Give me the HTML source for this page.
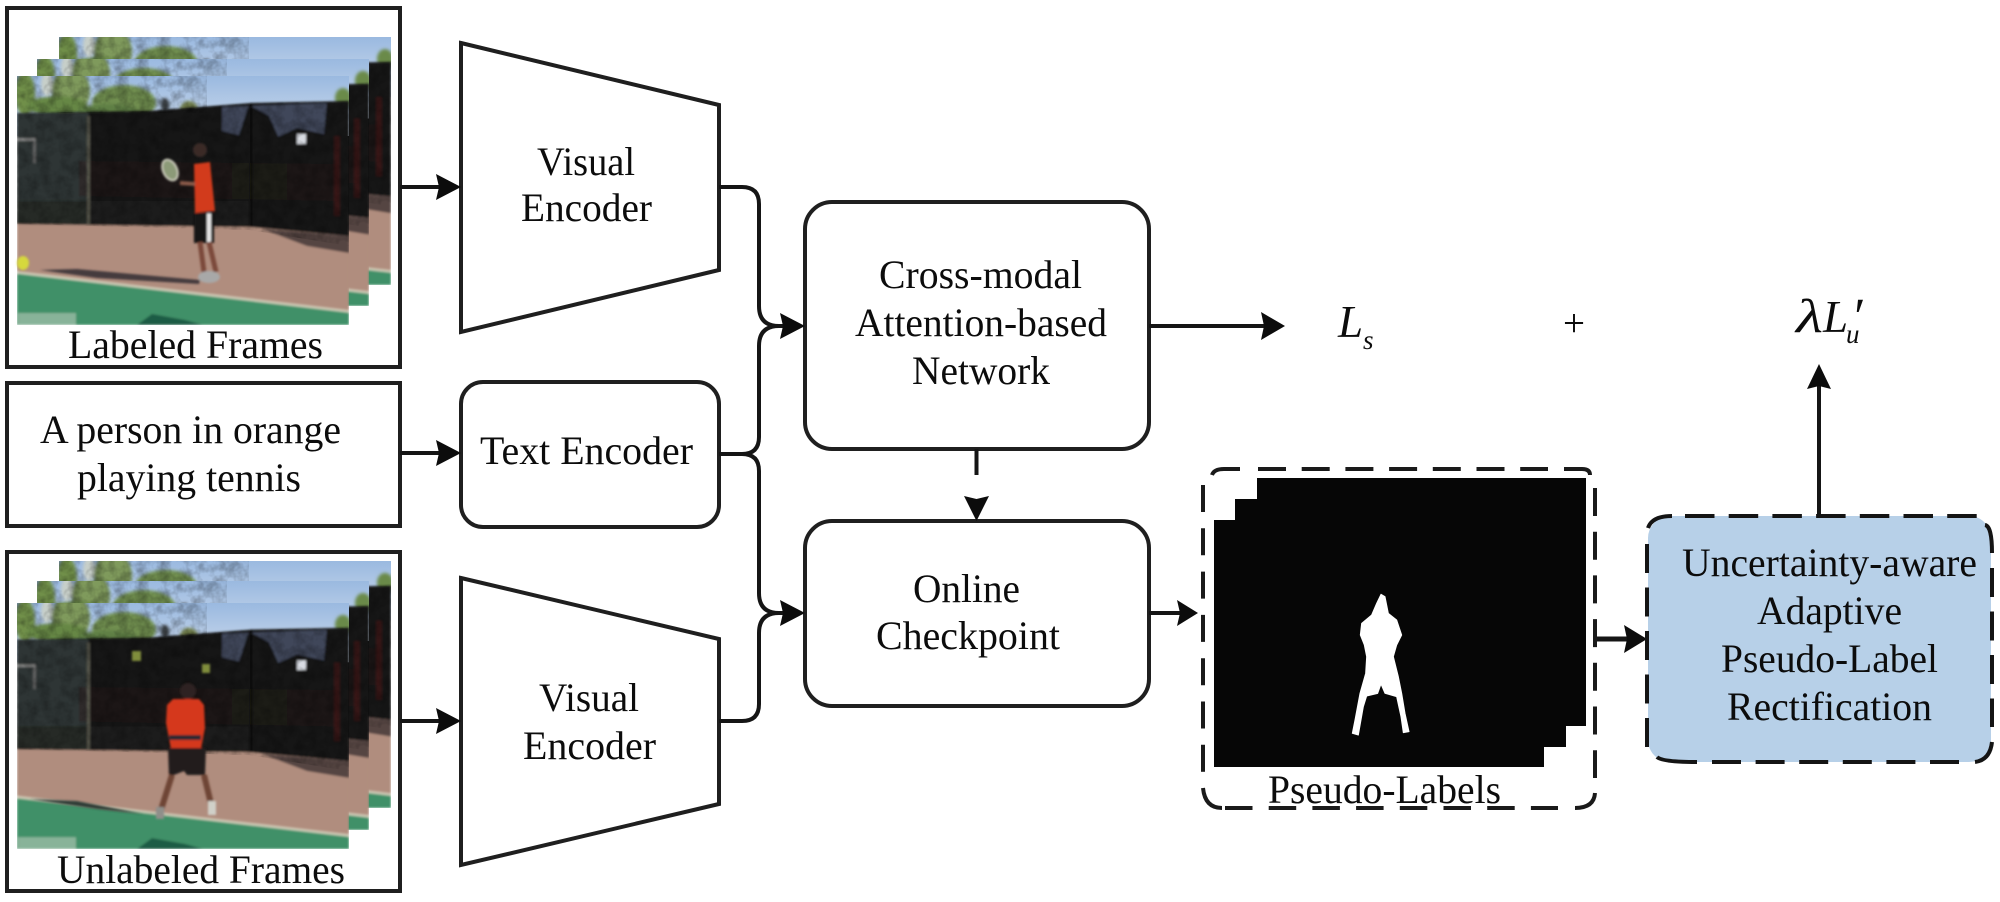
<!DOCTYPE html>
<html>
<head>
<meta charset="utf-8">
<style>
html,body{margin:0;padding:0;background:#fff;width:2000px;height:902px;overflow:hidden}
svg{display:block}
text{font-family:"Liberation Serif","Times New Roman",serif;fill:#0c0c0c}
</style>
</head>
<body>
<svg width="2000" height="902" viewBox="0 0 2000 902" xmlns="http://www.w3.org/2000/svg">
<defs>
<linearGradient id="sky" x1="0" y1="0" x2="0" y2="1"><stop offset="0" stop-color="#9ab9e0"/><stop offset="1" stop-color="#d3dfee"/></linearGradient>
<filter id="b1" x="-5%" y="-5%" width="110%" height="110%"><feGaussianBlur stdDeviation="1"/></filter>
<filter id="b2" x="-20%" y="-20%" width="140%" height="140%"><feGaussianBlur stdDeviation="1.6"/></filter>
<filter id="mott" x="0" y="0" width="100%" height="100%">
  <feTurbulence type="fractalNoise" baseFrequency=".09" numOctaves="3" seed="4"/>
  <feColorMatrix type="matrix" values="0 0 0 0 0  0 0 0 0 0  0 0 0 0 0  1.6 0 0 0 -.55"/>
  <feComposite in2="SourceGraphic" operator="in"/>
</filter>
<symbol id="bg" viewBox="0 0 332 249" preserveAspectRatio="none" overflow="hidden">
  <rect width="332" height="60" fill="url(#sky)"/>
  <g filter="url(#b2)">
    <ellipse cx="8" cy="18" rx="10" ry="22" fill="#6f8f49"/>
    <ellipse cx="30" cy="8" rx="6" ry="12" fill="#c7cfc9"/>
    <ellipse cx="54" cy="15" rx="19" ry="24" fill="#7f9a5c"/>
    <ellipse cx="40" cy="30" rx="30" ry="10" fill="#668745"/>
    <ellipse cx="107" cy="27" rx="32" ry="18" fill="#6f8e50"/>
    <ellipse cx="90" cy="36" rx="30" ry="8" fill="#5f7f45"/>
    <ellipse cx="172" cy="34" rx="9" ry="9" fill="#7b8a52"/>
    <ellipse cx="148" cy="29" rx="4" ry="7" fill="#3a3f44"/>
    <ellipse cx="326" cy="22" rx="8" ry="10" fill="#6b8a48"/>
  </g>
  <g filter="url(#b1)">
  <polygon points="0,37 130,35 235,27 332,25 332,170 232,154 0,148" fill="#141716"/>
  <rect x="0" y="37" width="72" height="112" fill="#2f3534"/>
  <polygon points="205,31 315,27 315,60 280,52 250,66 205,55" fill="#41465a"/>
  <polygon points="232,29 252,40 270,80 270,150 215,150 215,80" fill="#141815"/>
  <polygon points="310,26 332,25 332,160 300,155 305,80" fill="#141413"/>
  <rect x="0" y="125" width="232" height="24" fill="#202422" opacity=".6"/>
  <polygon points="62,85 320,88 320,125 62,120" fill="#2e1d1b" opacity=".4"/>
  <rect x="317" y="60" width="6" height="80" fill="#4e1a1c" opacity=".55"/>
  <rect x="0" y="62" width="18" height="3" fill="#a0a09e" opacity=".7"/>
  <rect x="16" y="62" width="3" height="25" fill="#8d8d8b" opacity=".5"/>
  <rect x="70" y="40" width="3" height="110" fill="#57564c"/>
  <rect x="233" y="27" width="2.5" height="125" fill="#070707"/>
  <polygon points="0,148 232,151 332,160 332,249 0,249" fill="#b08d7e"/>
  <polygon points="245,153 332,160 332,177 290,170" fill="#544442"/>
  <polygon points="0,197 332,236 332,249 0,249" fill="#3f9068"/>
  <polygon points="0,195 332,234 332,237 0,198" fill="#dcdcc8" opacity=".7"/>
  <polygon points="120,249 135,238 168,244 186,249" fill="#1f5c45"/>
  <rect x="1" y="237" width="58" height="12" fill="#b9cbbb" opacity=".6"/>
  <rect x="280" y="58" width="9" height="10" fill="#d8dbe2"/>
  </g>
  <polygon points="0,37 130,35 235,27 332,25 332,170 232,154 0,148" fill="#7a8078" opacity=".3" filter="url(#mott)"/>
  <rect x="0" y="0" width="190" height="37" fill="#b9c8a4" opacity=".4" filter="url(#mott)"/>
</symbol>
</defs>

<!-- Labeled frames -->
<rect x="7" y="8" width="393" height="359" fill="#fff" stroke="#1f1f1f" stroke-width="4"/>
<use href="#bg" x="59" y="37" width="332" height="248"/>
<use href="#bg" x="37" y="59" width="332" height="247"/>
<use href="#bg" x="17" y="76" width="332" height="249"/>
<g transform="translate(17,76)" filter="url(#b1)">
  <polygon points="23,194 60,193 183,204 182,208 80,202" fill="#453a3d"/>
  <ellipse cx="6" cy="187" rx="6" ry="7" fill="#d6d83c"/>
  <ellipse cx="153" cy="94" rx="7" ry="11" fill="#8c9a78" stroke="#c8c8b8" stroke-width="2" transform="rotate(-25 153 94)"/>
  <circle cx="183" cy="74" r="7" fill="#3a2a28"/>
  <polygon points="177,88 193,86 198,135 178,137" fill="#d23a1a"/>
  <line x1="178" y1="108" x2="163" y2="107" stroke="#8a5a48" stroke-width="4"/>
  <rect x="177" y="137" width="20" height="30" fill="#141414"/>
  <rect x="190" y="137" width="4" height="29" fill="#e8e8e8"/>
  <line x1="183" y1="166" x2="187" y2="196" stroke="#7c4a3a" stroke-width="5"/>
  <line x1="192" y1="166" x2="199" y2="196" stroke="#7c4a3a" stroke-width="5"/>
  <ellipse cx="192" cy="201" rx="11" ry="6" fill="#a8a8a8"/>
</g>
<text x="68" y="358" font-size="40" textLength="255" lengthAdjust="spacingAndGlyphs">Labeled Frames</text>

<!-- Text box -->
<rect x="7" y="383" width="393" height="143" fill="#fff" stroke="#1f1f1f" stroke-width="4"/>
<text x="40" y="443" font-size="40" textLength="301" lengthAdjust="spacingAndGlyphs">A person in orange</text>
<text x="77" y="491" font-size="40" textLength="224" lengthAdjust="spacingAndGlyphs">playing tennis</text>

<!-- Unlabeled frames -->
<rect x="7" y="552" width="393" height="339" fill="#fff" stroke="#1f1f1f" stroke-width="4"/>
<use href="#bg" x="59" y="561" width="332" height="247"/>
<use href="#bg" x="37" y="581" width="332" height="249"/>
<use href="#bg" x="17" y="603" width="332" height="246"/>
<g transform="translate(17,603)" filter="url(#b1)">
  <polygon points="13,196 60,198 126,211 80,206" fill="#2e3a36"/>
  <rect x="115" y="48" width="9" height="10" fill="#8c9a40" opacity=".9"/>
  <rect x="185" y="61" width="8" height="9" fill="#8c9a40" opacity=".9"/>
  <circle cx="171" cy="88" r="8" fill="#2e2320"/>
  <polygon points="156,96 182,96 187,102 188,125 184,146 154,146 149,120 150,102" fill="#d5381a"/>
  <polygon points="151,145 189,145 188,172 170,172 167,168 152,174" fill="#201f1e"/>
  <line x1="155" y1="172" x2="143" y2="210" stroke="#6e4435" stroke-width="6"/>
  <line x1="187" y1="172" x2="195" y2="205" stroke="#6e4435" stroke-width="6"/>
  <rect x="139" y="204" width="8" height="12" fill="#8f8f8a"/>
  <rect x="191" y="198" width="8" height="14" fill="#d0d0c8"/>
  <rect x="152" y="132" width="32" height="5" fill="#252a30"/>
</g>
<text x="57" y="883" font-size="40" textLength="288" lengthAdjust="spacingAndGlyphs">Unlabeled Frames</text>

<!-- Encoders -->
<polygon points="461,43 719,105 719,270 461,332" fill="#fff" stroke="#1f1f1f" stroke-width="4"/>
<polygon points="461,578 719,639 719,804 461,865" fill="#fff" stroke="#1f1f1f" stroke-width="4"/>
<rect x="461" y="382" width="258" height="145" rx="22" ry="22" fill="#fff" stroke="#1f1f1f" stroke-width="4"/>
<text x="537" y="175" font-size="40" textLength="98" lengthAdjust="spacingAndGlyphs">Visual</text>
<text x="521" y="221" font-size="40" textLength="131" lengthAdjust="spacingAndGlyphs">Encoder</text>
<text x="480" y="464" font-size="40" textLength="213" lengthAdjust="spacingAndGlyphs">Text Encoder</text>
<text x="539" y="711" font-size="40" textLength="100" lengthAdjust="spacingAndGlyphs">Visual</text>
<text x="523" y="759" font-size="40" textLength="133" lengthAdjust="spacingAndGlyphs">Encoder</text>

<!-- Center boxes -->
<rect x="805" y="202" width="344" height="247" rx="27" ry="27" fill="#fff" stroke="#1f1f1f" stroke-width="4"/>
<rect x="805" y="521" width="344" height="185" rx="27" ry="27" fill="#fff" stroke="#1f1f1f" stroke-width="4"/>
<text x="879" y="288" font-size="40" textLength="203" lengthAdjust="spacingAndGlyphs">Cross-modal</text>
<text x="855" y="336" font-size="40" textLength="252" lengthAdjust="spacingAndGlyphs">Attention-based</text>
<text x="912" y="384" font-size="40" textLength="138" lengthAdjust="spacingAndGlyphs">Network</text>
<text x="913" y="602" font-size="40" textLength="107" lengthAdjust="spacingAndGlyphs">Online</text>
<text x="876" y="649" font-size="40" textLength="184" lengthAdjust="spacingAndGlyphs">Checkpoint</text>

<!-- Connectors -->
<g fill="none" stroke="#151515" stroke-width="4">
  <line x1="400" y1="187" x2="445" y2="187"/>
  <line x1="400" y1="453" x2="445" y2="453"/>
  <line x1="400" y1="721" x2="445" y2="721"/>
  <path d="M719,187 H742 Q759,187 759,204 V306 Q759,326 779,326 H785"/>
  <path d="M719,454 H742 Q759,454 759,437 V346 Q759,326 779,326"/>
  <path d="M742,454 Q759,454 759,471 V593 Q759,613 779,613 H785"/>
  <path d="M719,721 H742 Q759,721 759,704 V633 Q759,613 779,613"/>
  <line x1="1149" y1="326" x2="1268" y2="326"/>
  <line x1="976.5" y1="449" x2="976.5" y2="475"/>
  <line x1="1149" y1="613" x2="1182" y2="613"/>
  <line x1="1596" y1="639" x2="1630" y2="639" stroke-width="5"/>
  <line x1="1819" y1="515" x2="1819" y2="382"/>
</g>
<g fill="#0c0c0c">
  <polygon points="461,187 436,174 439,187 436,200"/>
  <polygon points="461,453 436,440 439,453 436,466"/>
  <polygon points="461,721 436,708 439,721 436,734"/>
  <polygon points="805,326 780,313 783,326 780,339"/>
  <polygon points="805,613 780,600 783,613 780,626"/>
  <polygon points="1285,326 1261,312 1264,326 1261,340"/>
  <polygon points="976.5,521 964,496 976.5,499 989,496"/>
  <polygon points="1198,613 1177,600 1180,613 1177,626"/>
  <polygon points="1647,639 1624,625 1627,639 1624,653"/>
  <polygon points="1819,364 1807,389 1819,386 1831,389"/>
</g>

<!-- Pseudo labels -->
<polygon points="1257,478 1586,478 1586,726 1566,726 1566,747 1544,747 1544,767 1214,767 1214,520 1235,520 1235,499 1257,499" fill="#060606"/>
<polygon transform="translate(1195,460) scale(.33333)" fill="#fff" stroke="#fff" stroke-width="3" stroke-linejoin="round" points="558,403 570,410 580,460 605,480 620,525 605,555 595,590 610,650 620,700 630,760 642,815 625,818 618,770 605,710 570,700 558,672 548,700 515,708 505,740 490,825 472,820 480,780 495,700 512,640 515,590 508,555 496,525 500,490 530,465 545,430"/>
<text x="1268" y="803" font-size="40" textLength="233" lengthAdjust="spacingAndGlyphs">Pseudo-Labels</text>
<g fill="none" stroke="#1a1a1a" stroke-width="4">
  <path d="M1212,475 Q1214,469 1224,469 H1240"/>
  <line x1="1258" y1="469" x2="1548" y2="469" stroke-dasharray="28 15.7"/>
  <path d="M1564,469 H1582 Q1590,469 1590,475"/>
  <line x1="1595" y1="488" x2="1595" y2="778" stroke-dasharray="28 15.7"/>
  <path d="M1595,793 Q1594,808 1575,808"/>
  <line x1="1225" y1="808" x2="1558" y2="808" stroke-dasharray="27.5 16.2"/>
  <path d="M1203,788 Q1205,808 1222,808"/>
  <line x1="1203" y1="485" x2="1203" y2="773" stroke-dasharray="27 16.3"/>
</g>

<!-- Blue box -->
<rect x="1648" y="516" width="343" height="246" rx="22" ry="22" fill="#b7d0e8"/>
<g fill="none" stroke="#141414" stroke-width="4">
  <path d="M1648,528 Q1652,516 1672,516"/>
  <line x1="1685" y1="516" x2="1978" y2="516" stroke-dasharray="29.5 14.2"/>
  <path d="M1985,525 Q1992,526 1992,553"/>
  <line x1="1992" y1="568" x2="1992" y2="727" stroke-dasharray="29 14.5"/>
  <path d="M1992,742 Q1990,760 1975,762"/>
  <line x1="1712" y1="762" x2="1960" y2="762" stroke-dasharray="29 14.6"/>
  <path d="M1657,757 Q1662,762 1697,762"/>
  <line x1="1647" y1="544" x2="1647" y2="747" stroke-dasharray="29 14.5"/>
</g>
<text x="1682" y="576" font-size="40" textLength="295" lengthAdjust="spacingAndGlyphs">Uncertainty-aware</text>
<text x="1757" y="624" font-size="40" textLength="145" lengthAdjust="spacingAndGlyphs">Adaptive</text>
<text x="1721" y="672" font-size="40" textLength="217" lengthAdjust="spacingAndGlyphs">Pseudo-Label</text>
<text x="1727" y="720" font-size="40" textLength="205" lengthAdjust="spacingAndGlyphs">Rectification</text>

<!-- Math -->
<text x="1338" y="337" font-size="45" font-style="italic">L</text>
<text x="1363" y="349" font-size="27" font-style="italic">s</text>
<text x="1563" y="336" font-size="39">+</text>
<text x="1796" y="332" font-size="48" font-style="italic" textLength="27" lengthAdjust="spacingAndGlyphs">λ</text>
<text x="1823" y="332" font-size="45" font-style="italic">L</text>
<text x="1846" y="343" font-size="27" font-style="italic">u</text>
<text x="1851" y="334" font-size="52" font-style="italic">′</text>
</svg>
</body>
</html>
